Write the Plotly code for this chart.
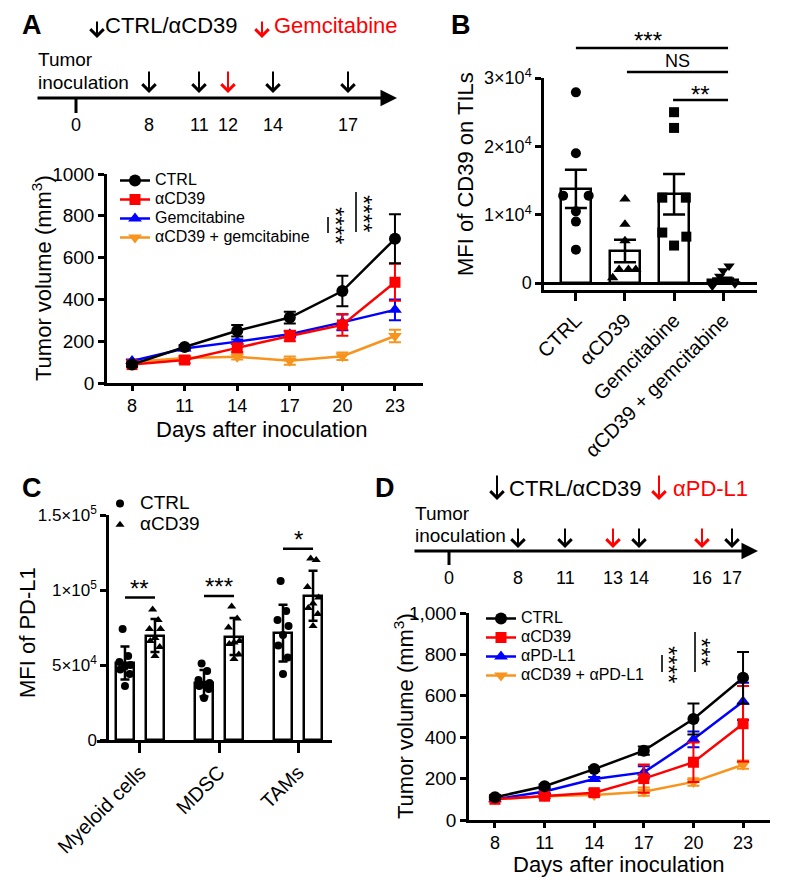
import plotly.graph_objects as go

# the page has an 8px body margin, so the figure is drawn 8px in from the corner
OFF = 8
W, H = 787 - OFF, 885 - OFF
FONT = "Liberation Sans, Arial, sans-serif"
RED = "#ff0000"
BLUE = "#0000ff"
ORANGE = "#f7941d"

# ---------------- data ----------------
days = [8, 11, 14, 17, 20, 23]

# panel A (tumor volume, mean +- SEM)
a_ctrl = [88, 172, 250, 313, 440, 690]
a_ctrl_err = [10, 10, 28, 28, 73, 117]
a_cd39 = [88, 110, 168, 225, 278, 482]
a_cd39_err = [8, 15, 20, 25, 52, 88]
a_gem = [105, 165, 198, 233, 290, 350]
a_gem_err = [8, 8, 10, 15, 38, 50]
a_combo = [100, 120, 125, 107, 128, 225]
a_combo_err = [8, 8, 12, 20, 18, 30]

# schedule A
sched_a_days = [0, 8, 11, 12, 14, 17]
sched_a_arrow = [None, "black", "black", "red", "black", "black"]

# panel B (MFI of CD39 on TILs)
b_groups = ["CTRL", "αCD39", "Gemcitabine", "αCD39 + gemcitabine"]
b_mean = [13800, 4700, 13000, 440]
b_sem = [2800, 1650, 2950, 250]
b_ctrl_pts = [27900, 19000, 12800, 12800, 10500, 9000, 4900]
b_cd39_pts = [12300, 8600, 6200, 2000, 2000, 2000, 800]
b_gem_pts = [25000, 22700, 12500, 12500, 7400, 6800, 5500]
b_combo_pts = [2500, 1800, 1000, 600, 100, -100, -400]

# panel C (MFI of PD-L1, mean +- SD)
c_groups = ["Myeloid cells", "MDSC", "TAMs"]
c_ctrl_mean = [51300, 37800, 71300]
c_ctrl_sd = [11000, 8800, 18900]
c_cd39_mean = [69600, 69000, 96200]
c_cd39_sd = [11000, 12400, 16700]
c_ctrl_pts = [[74000, 56000, 52000, 50000, 49000, 47000, 44000, 36000],
              [51000, 46000, 40000, 38000, 37000, 36000, 34000, 28000],
              [106000, 86000, 80000, 76000, 70000, 63000, 55000, 44000]]
c_cd39_pts = [[87000, 80000, 74000, 74000, 68000, 66000, 62000, 56000],
              [89000, 81000, 75000, 66000, 65000, 64000, 57000, 54000],
              [121000, 120000, 102000, 95000, 91000, 88000, 84000, 76000]]
c_sig = ["**", "***", "*"]

# panel D
d_ctrl = [110, 163, 246, 335, 488, 687]
d_ctrl_err = [10, 8, 10, 20, 75, 125]
d_cd39 = [100, 115, 132, 200, 279, 465]
d_cd39_err = [5, 10, 15, 68, 95, 182]
d_pdl1 = [100, 138, 198, 230, 390, 573]
d_pdl1_err = [5, 8, 10, 30, 38, 90]
d_combo = [100, 115, 121, 137, 184, 267]
d_combo_err = [5, 8, 10, 20, 18, 20]

sched_d_days = [0, 8, 11, 13, 14, 16, 17]
sched_d_arrow = [None, "black", "black", "red", "black", "red", "black"]

# ---------------- layout helpers (window pixel -> paper) ----------------
def px(x):
    return (x - OFF) / W


def py(y):
    return 1 - (y - OFF) / H


ann = []
shapes = []


def text(x, y, s, size, color="black", xanchor="center", angle=0):
    ann.append(dict(x=px(x), y=py(y), xref="paper", yref="paper", text=s,
                    showarrow=False, xanchor=xanchor, yanchor="middle",
                    textangle=angle,
                    font=dict(family=FONT, size=size, color=color)))


def down_arrow(x, y0, y1, color, width=2):
    ann.append(dict(x=px(x), y=py(y1), xref="paper", yref="paper", text="",
                    showarrow=True, ax=0, ay=-(y1 - y0), arrowhead=4,
                    arrowsize=1.3, arrowwidth=width, arrowcolor=color))


def pline(x0, y0, x1, y1, color="black", width=2.5):
    shapes.append(dict(type="line", xref="paper", yref="paper",
                       x0=px(x0), y0=py(y0), x1=px(x1), y1=py(y1),
                       line=dict(color=color, width=width)))


def big(name, size=16):
    return '<span style="font-size:%dpx">%s</span>' % (size, name)


fig = go.Figure()


def growth(xa, ya, name, y, err, color, symbol, size, legend):
    fig.add_trace(go.Scatter(
        x=days, y=y, name=big(name), mode="lines+markers", legend=legend,
        xaxis=xa, yaxis=ya,
        line=dict(color=color, width=2.5),
        marker=dict(color=color, symbol=symbol, size=size),
        error_y=dict(type="data", array=err, color=color, thickness=2, width=6)))


# ---------------- panel A ----------------
growth("x", "y", "αCD39 + gemcitabine", a_combo, a_combo_err, ORANGE, "triangle-down", 12, "legend")
growth("x", "y", "Gemcitabine", a_gem, a_gem_err, BLUE, "triangle-up", 12, "legend")
growth("x", "y", "αCD39", a_cd39, a_cd39_err, RED, "square", 11, "legend")
growth("x", "y", "CTRL", a_ctrl, a_ctrl_err, "black", "circle", 12, "legend")

# ---------------- panel D ----------------
growth("x4", "y4", "αCD39 + αPD-L1", d_combo, d_combo_err, ORANGE, "triangle-down", 12, "legend2")
growth("x4", "y4", "αPD-L1", d_pdl1, d_pdl1_err, BLUE, "triangle-up", 12, "legend2")
growth("x4", "y4", "αCD39", d_cd39, d_cd39_err, RED, "square", 11, "legend2")
growth("x4", "y4", "CTRL", d_ctrl, d_ctrl_err, "black", "circle", 12, "legend2")

# ---------------- panel B ----------------
b_idx = list(range(len(b_groups)))
fig.add_trace(go.Bar(
    x=b_idx, y=b_mean, width=0.61, xaxis="x2", yaxis="y2", showlegend=False,
    marker=dict(color="white", line=dict(color="black", width=2.5)),
    error_y=dict(type="data", array=b_sem, color="black", thickness=2.5, width=11)))
b_jit = [[0, 0, -0.26, 0.26, 0, 0, 0],
         [0, 0, 0, -0.12, 0.07, 0.22, -0.25],
         [0, 0, -0.24, 0.24, -0.24, 0.25, 0],
         [0.12, 0, -0.07, 0.08, -0.2, 0.24, -0.22]]
for i, (pts, sym) in enumerate(zip([b_ctrl_pts, b_cd39_pts, b_gem_pts, b_combo_pts],
                                   ["circle", "triangle-up", "square", "triangle-down"])):
    fig.add_trace(go.Scatter(
        x=[i + j for j in b_jit[i]], y=pts, mode="markers", showlegend=False,
        xaxis="x2", yaxis="y2", cliponaxis=False,
        marker=dict(color="black", symbol=sym, size=10)))

# ---------------- panel C ----------------
c_idx = list(range(len(c_groups)))
off = 0.19
fig.add_trace(go.Bar(
    x=[i - off for i in c_idx], y=c_ctrl_mean, width=0.23, xaxis="x3", yaxis="y3",
    showlegend=False, marker=dict(color="white", line=dict(color="black", width=2.5)),
    error_y=dict(type="data", array=c_ctrl_sd, color="black", thickness=2.5, width=4.5)))
fig.add_trace(go.Bar(
    x=[i + off for i in c_idx], y=c_cd39_mean, width=0.23, xaxis="x3", yaxis="y3",
    showlegend=False, marker=dict(color="white", line=dict(color="black", width=2.5)),
    error_y=dict(type="data", array=c_cd39_sd, color="black", thickness=2.5, width=4.5)))
c_jit = [-0.03, 0.04, -0.07, 0.07, 0.0, -0.06, 0.06, 0.0]
for name, pts_all, sign, sym in [("CTRL", c_ctrl_pts, -1, "circle"),
                                 ("αCD39", c_cd39_pts, 1, "triangle-up")]:
    xs, ys = [], []
    for i, pts in enumerate(pts_all):
        xs += [i + sign * off + j for j in c_jit[:len(pts)]]
        ys += pts
    fig.add_trace(go.Scatter(
        x=xs, y=ys, mode="markers", name=big(name, 19), legend="legend3",
        xaxis="x3", yaxis="y3",
        marker=dict(color="black", symbol=sym, size=8)))

# ---------------- axes ----------------
tick_font = dict(family=FONT, size=19, color="black")
base = dict(showline=True, linecolor="black", linewidth=2.5, ticks="outside",
            ticklen=6, tickwidth=2.5, tickcolor="black", showgrid=False,
            zeroline=False, tickfont=tick_font, fixedrange=True, automargin=False)

fig.update_layout(
    template="none",
    xaxis=dict(base, domain=[px(107), px(423)], range=[6.57, 24.6], anchor="y",
               tickvals=days, ticklen=5,
               tickfont=dict(family=FONT, size=18, color="black")),
    yaxis=dict(base, domain=[py(383), py(174)], range=[0, 1000], anchor="x",
               tickvals=[0, 200, 400, 600, 800, 1000], tickformat="d"),
    xaxis2=dict(base, domain=[px(544), px(757)], range=[-0.65, 3.69], anchor="y2",
                tickvals=b_idx, ticktext=b_groups, tickangle=-45, ticklen=8,
                tickfont=dict(family=FONT, size=20, color="black")),
    yaxis2=dict(base, domain=[py(290), py(78)], range=[-1000, 30000], anchor="x2",
                zeroline=True, zerolinecolor="black", zerolinewidth=2.5,
                tickvals=[0, 10000, 20000, 30000],
                ticktext=["0", "1×10<sup>4</sup>", "2×10<sup>4</sup>", "3×10<sup>4</sup>"],
                tickfont=dict(family=FONT, size=18, color="black")),
    xaxis3=dict(base, domain=[px(97), px(332)], range=[-0.544, 2.43], anchor="y3",
                tickvals=c_idx, ticktext=c_groups, tickangle=-45, ticklen=10,
                tickfont=dict(family=FONT, size=20, color="black")),
    yaxis3=dict(base, domain=[py(740), py(515)], range=[0, 150000], anchor="free",
                position=px(107),
                tickvals=[0, 50000, 100000, 150000],
                ticktext=["0", "5×10<sup>4</sup>", "1×10<sup>5</sup>", "1.5×10<sup>5</sup>"],
                tickfont=dict(family=FONT, size=17, color="black")),
    xaxis4=dict(base, domain=[px(469), px(770)], range=[6.43, 24.63], anchor="y4",
                tickvals=days, ticklen=5,
                tickfont=dict(family=FONT, size=18, color="black")),
    yaxis4=dict(base, domain=[py(820), py(613)], range=[0, 1000], anchor="x4",
                tickvals=[0, 200, 400, 600, 800, 1000], tickformat=","),
)

# ---------------- legends ----------------
leg = dict(bgcolor="rgba(0,0,0,0)", borderwidth=0, tracegroupgap=0,
           traceorder="reversed", itemwidth=30, xanchor="left", yanchor="top",
           font=dict(family=FONT, size=12, color="black"))
fig.update_layout(
    legend=dict(leg, x=px(115), y=py(166)),
    legend2=dict(leg, x=px(481), y=py(604)),
    legend3=dict(leg, x=px(100), y=py(488), traceorder="normal",
                 font=dict(family=FONT, size=14, color="black")),
)

# ---------------- text / decorations ----------------
# panel letters
for lab, x, y in [("A", 32, 25), ("B", 461, 25), ("C", 32, 488), ("D", 385, 488)]:
    text(x, y, "<b>" + lab + "</b>", 27)

# axis titles
text(42, 278, "Tumor volume (mm<sup>3</sup>)", 22, angle=-90)
text(262, 429, "Days after inoculation", 22)
text(465, 174, "MFI of CD39 on TILs", 22, angle=-90)
text(27, 633, "MFI of PD-L1", 22, angle=-90)
text(404, 716, "Tumor volume (mm<sup>3</sup>)", 22, angle=-90)
text(619, 864, "Days after inoculation", 22)

# schedule A
down_arrow(97, 20, 38, "black")
text(103, 26, "CTRL/αCD39", 22, xanchor="left")
down_arrow(262, 20, 38, RED)
text(272, 26, "Gemcitabine", 22, color=RED, xanchor="left")
text(36, 60, "Tumor", 19, xanchor="left")
text(36, 82, "inoculation", 19, xanchor="left")
sched_a_x = [76, 149, 199, 228, 273, 348]  # schematic (non-linear) positions
ann.append(dict(x=px(397), y=py(98), xref="paper", yref="paper", text="",
                showarrow=True, ax=-(397 - 36), ay=0, arrowhead=2,
                arrowsize=1.1, arrowwidth=3, arrowcolor="black"))
pline(76, 98, 76, 113, width=3)
for d, xx, c in zip(sched_a_days, sched_a_x, sched_a_arrow):
    text(xx, 125, str(d), 18)
    if c:
        down_arrow(xx, 70, 93, "black" if c == "black" else RED)

# schedule D
down_arrow(497, 474, 500, "black")
text(507, 488, "CTRL/αCD39", 22, xanchor="left")
down_arrow(659, 474, 500, RED)
text(671, 488, "αPD-L1", 22, color=RED, xanchor="left")
text(413, 513, "Tumor", 19, xanchor="left")
text(413, 535, "inoculation", 19, xanchor="left")
sched_d_x = [449, 518, 565, 613, 639, 702, 732]
ann.append(dict(x=px(758), y=py(551), xref="paper", yref="paper", text="",
                showarrow=True, ax=-(758 - 413), ay=0, arrowhead=2,
                arrowsize=1.1, arrowwidth=3, arrowcolor="black"))
pline(449, 551, 449, 565, width=3)
for d, xx, c in zip(sched_d_days, sched_d_x, sched_d_arrow):
    text(xx, 578, str(d), 18)
    if c:
        down_arrow(xx, 527, 548, "black" if c == "black" else RED)

# significance A
pline(328, 217, 328, 233, color="#333333", width=2)
text(336, 225, "****", 24, angle=90)
pline(356, 192, 356, 232, color="#333333", width=2)
text(363, 213, "****", 24, angle=90)

# significance D
pline(662, 655, 662, 672, color="#333333", width=2)
text(669, 664, "****", 24, angle=90)
pline(695, 632, 695, 672, color="#333333", width=2)
text(702, 652, "***", 24, angle=90)

# significance B
for x0, yy in [(0, 48), (1.04, 72), (1.98, 100)]:
    shapes.append(dict(type="line", xref="x2", yref="paper", x0=x0, x1=3.1,
                       y0=py(yy), y1=py(yy), line=dict(color="black", width=2.5)))
text(648, 41, "***", 24)
text(677, 61, "NS", 18)
text(700, 95, "**", 24)

# significance C
c_sig_y = [95000, 96000, 127500]
for i, (s, yy) in enumerate(zip(c_sig, c_sig_y)):
    shapes.append(dict(type="line", xref="x3", yref="y3", x0=i - off, x1=i + off,
                       y0=yy, y1=yy, line=dict(color="black", width=2.5)))
    ann.append(dict(x=i, y=yy, xref="x3", yref="y3", text=s, showarrow=False,
                    yanchor="bottom", yshift=-6,
                    font=dict(family=FONT, size=24, color="black")))

fig.update_layout(
    width=W, height=H, margin=dict(l=0, r=0, t=0, b=0, autoexpand=False),
    paper_bgcolor="white", plot_bgcolor="white",
    font=dict(family=FONT, color="black"),
    annotations=ann, shapes=shapes, bargap=0,
)

fig.write_html("out.html")
